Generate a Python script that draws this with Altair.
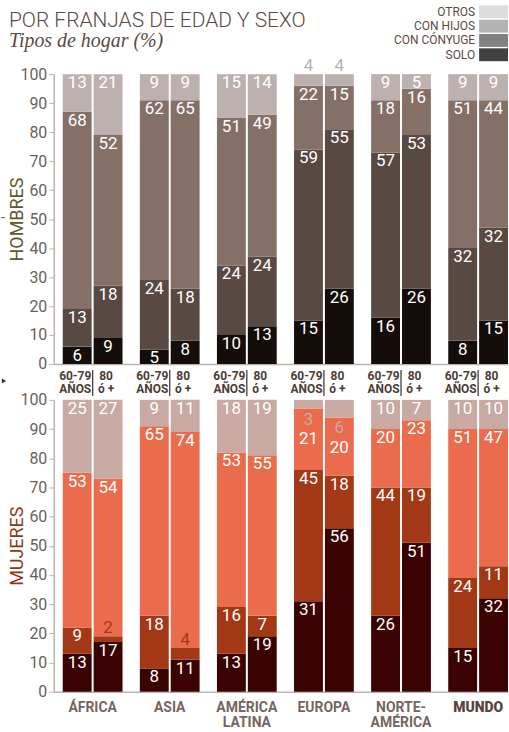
import altair as alt
import pandas as pd

# ---------------- data ----------------
regions = ["ÁFRICA", "ASIA", "AMÉRICA LATINA", "EUROPA", "NORTE-AMÉRICA", "MUNDO"]
ages = ["60-79", "80+"]
age_labels = ["60-79\nAÑOS", "80\nó +"]
categories = ["solo", "conyuge", "hijos", "otros"]
legend_labels = ["OTROS", "CON HIJOS", "CON CÓNYUGE", "SOLO"]
legend_colors = ["#dcdcdc", "#b3b3b3", "#818181", "#414141"]

# values per bar, order: region x (60-79, 80+)
men_solo = [6, 9, 5, 8, 10, 13, 15, 26, 16, 26, 8, 15]
men_conyuge = [13, 18, 24, 18, 24, 24, 59, 55, 57, 53, 32, 32]
men_hijos = [68, 52, 62, 65, 51, 49, 22, 15, 18, 16, 51, 44]
men_otros = [13, 21, 9, 9, 15, 14, 4, 4, 9, 5, 9, 9]

women_solo = [13, 17, 8, 11, 13, 19, 31, 56, 26, 51, 15, 32]
women_conyuge = [9, 2, 18, 4, 16, 7, 45, 18, 44, 19, 24, 11]
women_hijos = [53, 54, 65, 74, 53, 55, 21, 20, 20, 23, 51, 47]
women_otros = [25, 27, 9, 11, 18, 19, 3, 6, 10, 7, 10, 10]

men_colors = ["#150d09", "#584a42", "#857067", "#bcb1ae"]
women_colors = ["#3a0200", "#a23816", "#ea6c4c", "#c8aaa3"]

FONT = "Roboto"
TITLE_COL = "#5b4a44"
AXIS_TXT = "#6c5f58"
AXIS_LINE = "#bab3af"


def panel_df(series_list):
    rows = []
    for i, r in enumerate(regions):
        for j, a in enumerate(ages):
            k = 2 * i + j
            start = 0
            for c, s in zip(categories, series_list):
                v = s[k]
                rows.append({"region": r, "age": a, "cat": c, "value": v,
                             "start": start, "end": start + v})
                start += v
    return pd.DataFrame(rows)


def label_df(df, palette, above_otros_color, below_otros_color, otros_small):
    df = df.copy()
    df["kind"] = "inside"
    df["ly"] = df["end"]
    df["tcolor"] = "#ffffff"
    small = ((df["cat"] == "otros") & (df["value"] < otros_small)) | \
            ((df["cat"] != "otros") & (df["value"] < 5))
    for idx in df.index[small]:
        cat = df.at[idx, "cat"]
        if cat == "otros" and below_otros_color is not None:
            df.at[idx, "kind"] = "below"
            df.at[idx, "ly"] = df.at[idx, "start"]
            df.at[idx, "tcolor"] = below_otros_color
            m = (df.region == df.at[idx, "region"]) & (df.age == df.at[idx, "age"]) & (df.cat == "hijos")
            df.loc[m, "kind"] = "shift"
        elif cat == "otros":
            df.at[idx, "kind"] = "above"
            df.at[idx, "tcolor"] = above_otros_color
        else:
            df.at[idx, "kind"] = "above"
            df.at[idx, "tcolor"] = palette[categories.index(cat)]
    return df


W = 456
x_scale = alt.Scale(domain=regions, paddingInner=0.2248, paddingOuter=0.0581, align=1)
xo_scale = alt.Scale(domain=ages, paddingInner=0.0645, paddingOuter=0)
y_scale = alt.Scale(domain=[0, 100], nice=False, zero=True)


def panel(series_list, palette, title, title_color, height, x_axis,
          above_col, below_col, otros_small, extra_layers):
    df = panel_df(series_list)
    ldf = label_df(df, palette, above_col, below_col, otros_small)
    y_axis = alt.Axis(values=list(range(0, 101, 10)), title=title, titleColor=title_color,
                      titleFont=FONT, titleFontSize=18, titleFontWeight="normal",
                      titleAngle=270, titleAlign="center", titleBaseline="middle",
                      titleX=-36, titleY=height / 2,
                      labelFont=FONT, labelFontSize=16, labelColor=AXIS_TXT, labelPadding=2,
                      tickSize=5, tickColor=AXIS_LINE, domainColor=AXIS_LINE,
                      domainWidth=1.5, grid=False)
    X = alt.X("region:N", sort=regions, scale=x_scale, axis=x_axis)
    XO = alt.XOffset("age:N", sort=ages, scale=xo_scale)
    bars = alt.Chart(df).mark_bar().encode(
        x=X, xOffset=XO,
        y=alt.Y("start:Q", scale=y_scale, axis=y_axis),
        y2="end:Q",
        color=alt.Color("cat:N", scale=alt.Scale(domain=categories, range=palette), legend=None),
    )
    layers = [bars]
    for kind, baseline, dy in [("inside", "top", 1), ("shift", "top", 23),
                               ("below", "top", 3), ("above", "alphabetic", -3)]:
        layers.append(
            alt.Chart(ldf).transform_filter(alt.datum.kind == kind)
            .mark_text(baseline=baseline, dy=dy, font=FONT, fontSize=17, align="center")
            .encode(
                x=X, xOffset=XO,
                y=alt.Y("ly:Q", scale=y_scale, axis=y_axis),
                text="value:Q",
                color=alt.Color("tcolor:N", scale=None),
            )
        )
    for lyr in extra_layers:
        layers.append(lyr(X, XO))
    return alt.layer(*layers).properties(width=W, height=height)


one = pd.DataFrame({"a": [0]})

# age labels under top panel
age_df = pd.DataFrame([{"region": r, "age": a, "lab": l}
                       for r in regions for a, l in zip(ages, age_labels)])
reg_df = pd.DataFrame({"region": regions})
H_TOP = 291


def age_text(X, XO):
    return alt.Chart(age_df).mark_text(
        baseline="top", align="center", dx=-2, font=FONT, fontSize=12, fontWeight="bold",
        lineBreak="\n", lineHeight=13, color="#4b3d35"
    ).encode(x=X, xOffset=XO, y=alt.value(H_TOP + 7), text="lab:N")


def age_sep(X, XO):
    return alt.Chart(reg_df).mark_rule(color="#4b3d35", strokeWidth=1.3).encode(
        x=X, y=alt.value(H_TOP + 6), y2=alt.value(H_TOP + 32))


def deco_dash(X, XO):
    return alt.Chart(one).mark_rule(color="#6c5f58", strokeWidth=1).encode(
        x=alt.value(-53), x2=alt.value(-49), y=alt.value(144))


def deco_tri(X, XO):
    return alt.Chart(one).mark_point(shape="triangle-right", filled=True, size=25,
                                     color="#3b2f2a", opacity=1).encode(
        x=alt.value(-50), y=alt.value(H_TOP + 17))


top_axis = alt.Axis(labels=False, ticks=False, domain=True, domainColor=AXIS_LINE,
                    domainWidth=1.5, title=None)
top = panel([men_solo, men_conyuge, men_hijos, men_otros], men_colors, "HOMBRES", "#5c5a2c",
            H_TOP, top_axis, "#b8b3b0", None, 5, [age_sep, age_text, deco_dash, deco_tri])

bottom_axis = alt.Axis(
    title=None, ticks=False, domain=True, domainColor=AXIS_LINE, domainWidth=1.5,
    labelAngle=0, labelFont=FONT, labelFontSize=14, labelPadding=9, labelLineHeight=15,
    labelBaseline="top",
    labelExpr="split(replace(replace(datum.label, ' ', '|'), '-', '-|'), '|')",
    labelFontWeight={"condition": {"test": "datum.value == 'MUNDO'", "value": 900}, "value": 700},
    labelColor={"condition": {"test": "datum.value == 'MUNDO'", "value": "#55453e"}, "value": "#74665f"},
)
bottom = panel([women_solo, women_conyuge, women_hijos, women_otros], women_colors, "MUJERES",
               "#8a3a1c", 293, bottom_axis, None, "#d0a89c", 7, [])

# header: title, subtitle, legend
leg_df = pd.DataFrame({"label": legend_labels, "color": legend_colors})
leg_y = alt.Y("label:N", sort=legend_labels,
              scale=alt.Scale(range=[0, 56], paddingInner=0.1, paddingOuter=0), axis=None)
swatch = alt.Chart(leg_df).mark_rect().encode(
    y=leg_y, x=alt.value(427), x2=alt.value(456), color=alt.Color("color:N", scale=None))
leg_text = alt.Chart(leg_df).mark_text(
    align="right", baseline="middle", font=FONT, fontSize=12, color=TITLE_COL
).encode(y=leg_y, x=alt.value(423), text="label:N")
title_txt = alt.Chart(one).mark_text(
    align="left", baseline="alphabetic", font=FONT, fontSize=21, fontWeight=300, color=TITLE_COL
).encode(x=alt.value(-45), y=alt.value(22), text=alt.value("POR FRANJAS DE EDAD Y SEXO"))
sub_txt = alt.Chart(one).mark_text(
    align="left", baseline="alphabetic", font="Liberation Serif", fontSize=20, fontStyle="italic",
    color=TITLE_COL
).encode(x=alt.value(-45), y=alt.value(42), text=alt.value("Tipos de hogar (%)"))
header = alt.layer(swatch, leg_text, title_txt, sub_txt).properties(width=W, height=33)

chart = alt.vconcat(header, top, bottom, spacing=36, bounds="flush").resolve_scale(
    color="independent"
).properties(
    padding={"left": 0, "top": 4, "right": 0, "bottom": 0}
).configure_view(stroke=None)

chart.save("out.html", embed_options={"renderer": "svg", "actions": False})
